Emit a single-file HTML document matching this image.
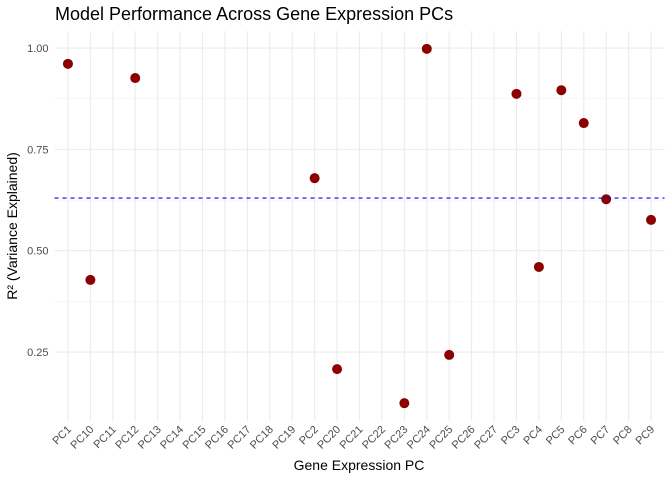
<!DOCTYPE html>
<html><head><meta charset="utf-8"><style>
body{margin:0;background:#fff;font-family:"Liberation Sans",sans-serif}
</style></head><body>
<svg id="chart" width="672" height="480" xmlns="http://www.w3.org/2000/svg">
<text x="55" y="20" font-size="18" fill="#000">Model Performance Across Gene Expression PCs</text>
<g id="grid"></g><g id="marks"></g><g id="axes"></g>
<text x="359" y="470" font-size="14" text-anchor="middle" fill="#000">Gene Expression PC</text>
<text transform="translate(17,226) rotate(-90)" font-size="14" text-anchor="middle" fill="#000">R² (Variance Explained)</text>
</svg>
<script>
const categories=["PC1","PC10","PC11","PC12","PC13","PC14","PC15","PC16","PC17","PC18","PC19","PC2","PC20","PC21","PC22","PC23","PC24","PC25","PC26","PC27","PC3","PC4","PC5","PC6","PC7","PC8","PC9"];
const pointCats=["PC1","PC10","PC12","PC2","PC20","PC23","PC24","PC25","PC3","PC4","PC5","PC6","PC7","PC9"];
const pointVals=[0.961,0.428,0.926,0.679,0.208,0.124,0.998,0.243,0.887,0.460,0.896,0.815,0.627,0.576];
const refLine=0.63;
const yTicks=[0.25,0.50,0.75,1.00];
const yTickLabels=["0.25","0.50","0.75","1.00"];
const NS="http://www.w3.org/2000/svg";
const L=54.5,R=664.5,T=31,B=421;
const step=(R-L)/(categories.length+0.2);
const x=c=>L+(categories.indexOf(c)+0.6)*step;
const yMin=0.080,yMax=1.042;
const y=v=>B-(v-yMin)/(yMax-yMin)*(B-T);
function mk(tag,attrs,parent){const e=document.createElementNS(NS,tag);for(const k in attrs)e.setAttribute(k,attrs[k]);document.getElementById(parent).appendChild(e);return e;}
// minor y grid
for(let i=0;i<yTicks.length-1;i++){const v=(yTicks[i]+yTicks[i+1])/2;const e=mk("line",{x1:L,x2:R,y1:y(v),y2:y(v),stroke:"#f3f3f3","stroke-width":0.6},"grid");

}
yTicks.forEach((v,i)=>{const g=mk("line",{x1:L,x2:R,y1:y(v),y2:y(v),stroke:"#ebebeb","stroke-width":1.1},"grid");


const t=mk("text",{x:L-6,y:y(v)+4,"font-size":11,"text-anchor":"end",fill:"#4d4d4d"},"axes");t.textContent=yTickLabels[i];

});
categories.forEach(c=>{const g=mk("line",{x1:x(c),x2:x(c),y1:T,y2:B,stroke:"#ebebeb","stroke-width":1.1},"grid");


const t=mk("text",{transform:`translate(${x(c)+4},${B+9}) rotate(-45)`,"font-size":11,"text-anchor":"end",fill:"#4d4d4d"},"axes");t.textContent=c;

});
pointCats.forEach((c,i)=>{const p=mk("circle",{cx:x(c),cy:y(pointVals[i]),r:5,fill:"#8b0000"},"marks");

});
const rl=mk("line",{x1:L,x2:R,y1:y(refLine),y2:y(refLine),stroke:"#0000ff","stroke-width":1.1,"stroke-dasharray":"4,4"},"marks");


</script>
</body></html>
